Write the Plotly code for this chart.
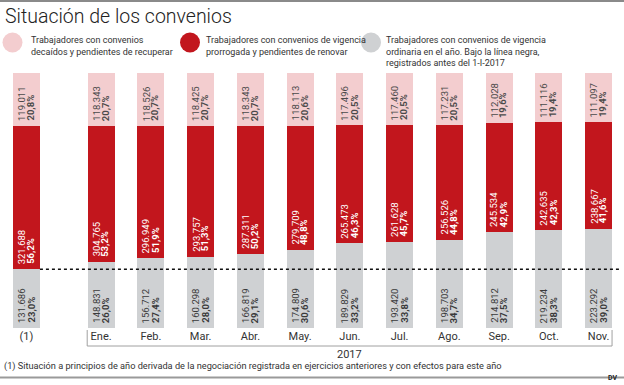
import plotly.graph_objects as go

# ---- data ----
categories = ["(1)", "Ene.", "Feb.", "Mar.", "Abr.", "May.", "Jun.", "Jul.", "Ago.", "Sep.", "Oct.", "Nov."]
x_pos = [-1.5, 0, 1, 2, 3, 4, 5, 6, 7, 8, 9, 10]

decaidos_n = [119011, 118343, 118526, 118425, 118343, 118113, 117496, 117460, 117231, 112028, 111116, 111097]
decaidos_pct = [20.8, 20.7, 20.7, 20.7, 20.7, 20.6, 20.5, 20.5, 20.5, 19.6, 19.4, 19.4]

prorrogada_n = [321688, 304765, 296949, 293757, 287311, 279709, 265473, 261628, 256526, 245534, 242635, 238667]
prorrogada_pct = [56.2, 53.2, 51.9, 51.3, 50.2, 48.8, 46.3, 45.7, 44.8, 42.9, 42.3, 41.6]

ordinaria_n = [131686, 148831, 156712, 160298, 166819, 174809, 189829, 193420, 198703, 214812, 219234, 223292]
ordinaria_pct = [23.0, 26.0, 27.4, 28.0, 29.1, 30.6, 33.2, 33.8, 34.7, 37.5, 38.3, 39.0]

legend_labels = [
    "Trabajadores con convenios<br>decaídos y pendientes de recuperar",
    "Trabajadores con convenios de vigencia<br>prorrogada y pendientes de renovar",
    "Trabajadores con convenios de vigencia<br>ordinaria en el año. Bajo la línea negra,<br>registrados antes del 1-I-2017",
]
year_label = "2017"
title = "Situación de los convenios"
footnote = "(1) Situación a principios de año derivada de la negociación registrada en ejercicios anteriores y con efectos para este año"

PINK = "#f3cdcf"
RED = "#c2161d"
GRAY = "#cfd1d3"
TXT = "#333333"
FONT = "Roboto, sans-serif"

W, H = 624, 385
ML, MR, MT, MB = 5, 4, 73, 57
PW, PH = W - ML - MR, H - MT - MB
SLOT = 49.75
BW = 0.54
x_lo = -1.5 - (26.5 - ML) / SLOT
x_hi = x_lo + PW / SLOT


def px(xp):
    return (xp - ML) / PW


def py(yp):
    return (H - MB - yp) / PH


fig = go.Figure()
series = [
    (ordinaria_pct, ordinaria_n, GRAY, "#3a3a3a"),
    (prorrogada_pct, prorrogada_n, RED, "#ffffff"),
    (decaidos_pct, decaidos_n, PINK, "#4a4a4a"),
]
for vals, nums, color, tcol in series:
    fig.add_trace(go.Bar(
        x=x_pos, y=vals, width=BW, marker=dict(color=color, line=dict(width=0)),
        hoverinfo="skip",
    ))

fig.update_layout(
    width=W, height=H, barmode="stack", showlegend=False,
    margin=dict(l=ML, r=MR, t=MT, b=MB),
    plot_bgcolor="white", paper_bgcolor="white",
    xaxis=dict(range=[x_lo, x_hi], tickvals=x_pos, ticktext=categories, showgrid=False, automargin=False,
               zeroline=False, showline=False, ticks="", tickfont=dict(size=11, color=TXT, family=FONT),
               fixedrange=True),
    yaxis=dict(range=[0, 100], visible=False, fixedrange=True, automargin=False),
)

ann = []
# segment labels, anchored at the base of each stacked segment
base = [0.0] * len(x_pos)
for vals, nums, color, tcol in series:
    for i, (xv, v, n) in enumerate(zip(x_pos, vals, nums)):
        num_txt = f"{n:,}".replace(",", ".")
        pct_txt = "<b>" + f"{v:.1f}".replace(".", ",") + "%</b>"
        for t, dx in [(num_txt, -5), (pct_txt, 4)]:
            ann.append(dict(text=t, xref="x", yref="y", x=xv, y=base[i], xanchor="center", yanchor="bottom",
                            xshift=dx, yshift=3, textangle=-90, showarrow=False,
                            font=dict(size=9.5, color=tcol, family=FONT)))
        base[i] += v

shapes = []
# dotted reference line at level of the (1) ordinary bar
shapes.append(dict(type="line", xref="x", yref="y", x0=x_pos[0] + BW / 2, x1=x_hi, y0=ordinaria_pct[0], y1=ordinaria_pct[0],
                   line=dict(color="#111111", width=1.5, dash="dot")))
# bracket for 2017
bx0, bx1 = x_pos[1] - BW / 2 - 0.01, x_pos[-1] + BW / 2
shapes.append(dict(type="line", xref="x", yref="paper", x0=bx0, x1=bx0, y0=py(330), y1=py(346),
                   line=dict(color="#a0a0a0", width=1)))
shapes.append(dict(type="line", xref="x", yref="paper", x0=bx0, x1=bx1, y0=py(346), y1=py(346),
                   line=dict(color="#a0a0a0", width=1)))
shapes.append(dict(type="line", xref="x", yref="paper", x0=bx1, x1=bx1, y0=py(330), y1=py(346),
                   line=dict(color="#a0a0a0", width=1)))
# top and bottom rules
shapes.append(dict(type="line", xref="paper", yref="paper", x0=px(0), x1=px(W), y0=py(1), y1=py(1),
                   line=dict(color="#8a8a8a", width=2)))
shapes.append(dict(type="line", xref="paper", yref="paper", x0=px(0), x1=px(W), y0=py(377.5), y1=py(377.5),
                   line=dict(color="#9a9a9a", width=2)))
# legend circles
for cx, col in [(12.5, PINK), (190, RED), (371, GRAY)]:
    shapes.append(dict(type="circle", xref="paper", yref="paper", x0=px(cx - 10), x1=px(cx + 10),
                       y0=py(42.5 + 10), y1=py(42.5 - 10), fillcolor=col, line=dict(width=0)))
fig.update_layout(shapes=shapes)

ann.append(dict(text=title, xref="paper", yref="paper", x=px(3), y=py(17), xanchor="left", yanchor="middle",
                showarrow=False, font=dict(size=19.5, color="#222222", family=FONT, weight=300)))
for lx, lbl in [(29, legend_labels[0]), (204, legend_labels[1]), (384, legend_labels[2])]:
    ann.append(dict(text=lbl, xref="paper", yref="paper", x=px(lx), y=py(33), xanchor="left", yanchor="top",
                    align="left", showarrow=False, font=dict(size=9, color=TXT, family=FONT)))
ann.append(dict(text=year_label, xref="x", yref="paper", x=(x_pos[1] + x_pos[-1]) / 2, y=py(354),
                xanchor="center", yanchor="middle", showarrow=False, font=dict(size=11, color=TXT, family=FONT)))
ann.append(dict(text=footnote, xref="paper", yref="paper", x=px(2), y=py(366), xanchor="left", yanchor="middle",
                showarrow=False, font=dict(size=9.2, color=TXT, family=FONT)))
ann.append(dict(text="<b>DV</b>", xref="paper", yref="paper", x=px(619), y=py(384), xanchor="right", yanchor="bottom",
                showarrow=False, font=dict(size=7, color="#222222", family=FONT)))
fig.update_layout(annotations=ann)

fig.write_html("out.html", config={"displayModeBar": False, "staticPlot": True},
               post_script="document.body.style.margin='0px';")
